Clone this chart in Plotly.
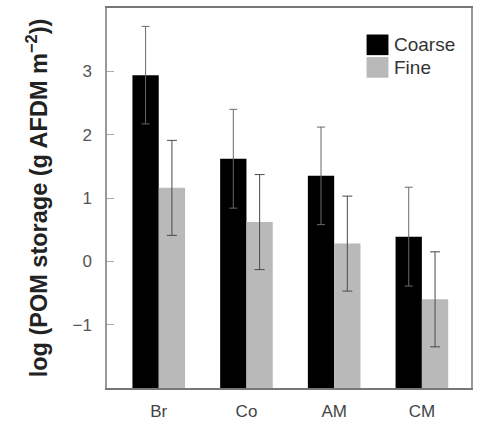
import plotly.graph_objects as go

categories = ["Br", "Co", "AM", "CM"]
coarse = [2.94, 1.62, 1.35, 0.39]
coarse_err = [0.77, 0.78, 0.77, 0.78]
fine = [1.16, 0.62, 0.28, -0.60]
fine_err = [0.75, 0.75, 0.75, 0.75]
y_ticks = [-1, 0, 1, 2, 3]
baseline = -2

fig = go.Figure()
fig.add_trace(go.Bar(
    name="Coarse", x=categories, y=[v - baseline for v in coarse], base=baseline,
    marker=dict(color="#000000", line=dict(width=0)),
    error_y=dict(type="data", array=coarse_err, color="#6a6a6a", thickness=1, width=4),
))
fig.add_trace(go.Bar(
    name="Fine", x=categories, y=[v - baseline for v in fine], base=baseline,
    marker=dict(color="#b9b9b9", line=dict(width=0)),
    error_y=dict(type="data", array=fine_err, color="#4a4a4a", thickness=1, width=5),
))

# legend drawn as shapes + text
legend_items = [("Coarse", "#000000"), ("Fine", "#b9b9b9")]
shapes = []
annotations = []
for i, (lbl, col) in enumerate(legend_items):
    y0 = 1 - (33 - 6 + i * 23) / 387
    y1 = y0 - 21 / 387
    x0 = (368 - 107) / 366
    x1 = (390 - 107) / 366
    shapes.append(dict(type="rect", xref="paper", yref="paper", x0=x0, x1=x1, y0=y1, y1=y0,
                       fillcolor=col, line=dict(width=0)))
    annotations.append(dict(xref="paper", yref="paper", x=(394 - 107) / 366, y=(y0 + y1) / 2,
                            text=lbl, showarrow=False, xanchor="left", yanchor="middle",
                            font=dict(family="Liberation Sans, Arial, sans-serif", size=19, color="#333333")))

fig.update_layout(
    width=479, height=427,
    margin=dict(l=107, r=6, t=6, b=34),
    paper_bgcolor="white", plot_bgcolor="white",
    barmode="group", bargap=0.4, bargroupgap=0,
    showlegend=False,
    shapes=shapes, annotations=annotations,
    font=dict(family="Liberation Sans, Arial, sans-serif"),
    xaxis=dict(
        range=[-0.59, 3.56], showgrid=False, zeroline=False,
        showline=True, linecolor="#777777", linewidth=1.5, mirror=True,
        ticks="", tickfont=dict(size=17, color="#444444"), ticklabelstandoff=7,
    ),
    yaxis=dict(
        range=[-2, 4], tickvals=y_ticks, showgrid=False, zeroline=False,
        showline=True, linecolor="#999999", linewidth=1.5, mirror=True,
        ticks="inside", ticklen=7, tickcolor="#aaaaaa", tickwidth=1,
        tickfont=dict(size=17, color="#555555"), ticklabelstandoff=10,
        title=dict(text="<b>log (POM storage (g AFDM m<sup>−2</sup>))</b>",
                   font=dict(size=23.5, color="#222222", family="Liberation Sans, Arial, sans-serif"),
                   standoff=18),
    ),
)

fig.write_html("out.html", config={"displayModeBar": False},
               post_script="document.body.style.margin='0';")
